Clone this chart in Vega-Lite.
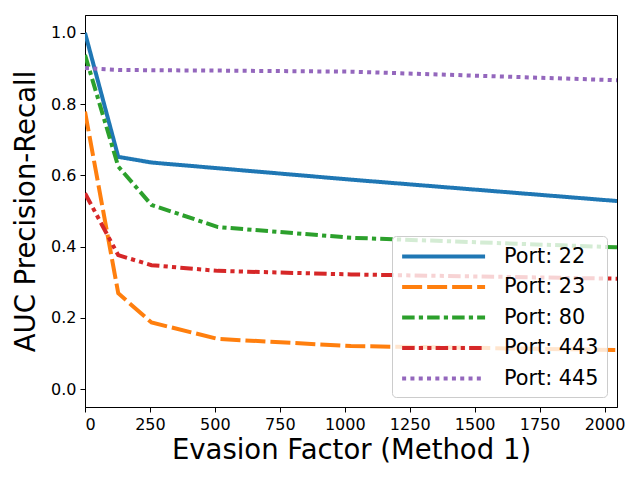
{
  "$schema": "https://vega.github.io/schema/vega-lite/v6.json",
  "width": 532,
  "height": 392,
  "autosize": {"type": "none"},
  "padding": {"left": 85, "top": 15, "right": 23, "bottom": 73},
  "config": {
    "font": "DejaVu Sans",
    "view": {"stroke": "black", "strokeWidth": 1},
    "axis": {
      "grid": false,
      "domainColor": "black",
      "tickColor": "black",
      "tickSize": 5,
      "labelFontSize": 16,
      "labelColor": "black",
      "labelPadding": 4,
      "titleFontSize": 27.5,
      "titleFontWeight": "normal",
      "titleColor": "black"
    },
    "legend": {
      "symbolType": "M-1,0H7",
      "symbolSize": 430,
      "symbolStrokeWidth": 4,
      "labelFontSize": 20.8,
      "labelColor": "black",
      "labelOffset": 79,
      "rowPadding": 7.5,
      "padding": 8,
      "fillColor": "rgba(255,255,255,0.8)",
      "strokeColor": "#cccccc",
      "cornerRadius": 4
    }
  },
  "data": {
    "values": [
      {"factor": 0, "auc": 1.0, "port": "Port: 22"},
      {"factor": 128, "auc": 0.652, "port": "Port: 22"},
      {"factor": 256, "auc": 0.636, "port": "Port: 22"},
      {"factor": 512, "auc": 0.62, "port": "Port: 22"},
      {"factor": 1024, "auc": 0.588, "port": "Port: 22"},
      {"factor": 2048, "auc": 0.528, "port": "Port: 22"},
      {"factor": 0, "auc": 0.779, "port": "Port: 23"},
      {"factor": 128, "auc": 0.269, "port": "Port: 23"},
      {"factor": 256, "auc": 0.187, "port": "Port: 23"},
      {"factor": 512, "auc": 0.141, "port": "Port: 23"},
      {"factor": 1024, "auc": 0.121, "port": "Port: 23"},
      {"factor": 2048, "auc": 0.11, "port": "Port: 23"},
      {"factor": 0, "auc": 0.938, "port": "Port: 80"},
      {"factor": 128, "auc": 0.625, "port": "Port: 80"},
      {"factor": 256, "auc": 0.517, "port": "Port: 80"},
      {"factor": 512, "auc": 0.455, "port": "Port: 80"},
      {"factor": 1024, "auc": 0.425, "port": "Port: 80"},
      {"factor": 2048, "auc": 0.398, "port": "Port: 80"},
      {"factor": 0, "auc": 0.55, "port": "Port: 443"},
      {"factor": 128, "auc": 0.376, "port": "Port: 443"},
      {"factor": 256, "auc": 0.348, "port": "Port: 443"},
      {"factor": 512, "auc": 0.332, "port": "Port: 443"},
      {"factor": 1024, "auc": 0.322, "port": "Port: 443"},
      {"factor": 2048, "auc": 0.31, "port": "Port: 443"},
      {"factor": 0, "auc": 0.901, "port": "Port: 445"},
      {"factor": 128, "auc": 0.896, "port": "Port: 445"},
      {"factor": 256, "auc": 0.895, "port": "Port: 445"},
      {"factor": 512, "auc": 0.894, "port": "Port: 445"},
      {"factor": 1024, "auc": 0.891, "port": "Port: 445"},
      {"factor": 2048, "auc": 0.867, "port": "Port: 445"}
    ]
  },
  "mark": {"type": "line", "strokeWidth": 4, "strokeCap": "butt", "clip": true},
  "encoding": {
    "x": {
      "field": "factor",
      "type": "quantitative",
      "title": "Evasion Factor (Method 1)",
      "scale": {"domain": [0, 2048], "nice": false, "zero": false},
      "axis": {"values": [0, 250, 500, 750, 1000, 1250, 1500, 1750, 2000], "format": "d", "titlePadding": 4}
    },
    "y": {
      "field": "auc",
      "type": "quantitative",
      "title": "AUC Precision-Recall",
      "scale": {"domain": [-0.05, 1.05], "nice": false, "zero": false},
      "axis": {"values": [0, 0.2, 0.4, 0.6, 0.8, 1.0], "format": ".1f", "titlePadding": 10}
    },
    "color": {
      "field": "port",
      "type": "nominal",
      "scale": {
        "domain": ["Port: 22", "Port: 23", "Port: 80", "Port: 443", "Port: 445"],
        "range": ["#1f77b4", "#ff7f0e", "#2ca02c", "#d62728", "#9467bd"]
      },
      "legend": {"title": null, "orient": "bottom-right", "offset": 10}
    },
    "strokeDash": {
      "field": "port",
      "type": "nominal",
      "scale": {
        "domain": ["Port: 22", "Port: 23", "Port: 80", "Port: 443", "Port: 445"],
        "range": [[1, 0], [20, 5], [12.5, 4.2, 4.2, 4.1], [12.5, 4.2, 4.2, 4.2, 4.2, 4.2], [4, 4.3]]
      },
      "legend": {"title": null, "orient": "bottom-right", "offset": 10}
    }
  }
}
